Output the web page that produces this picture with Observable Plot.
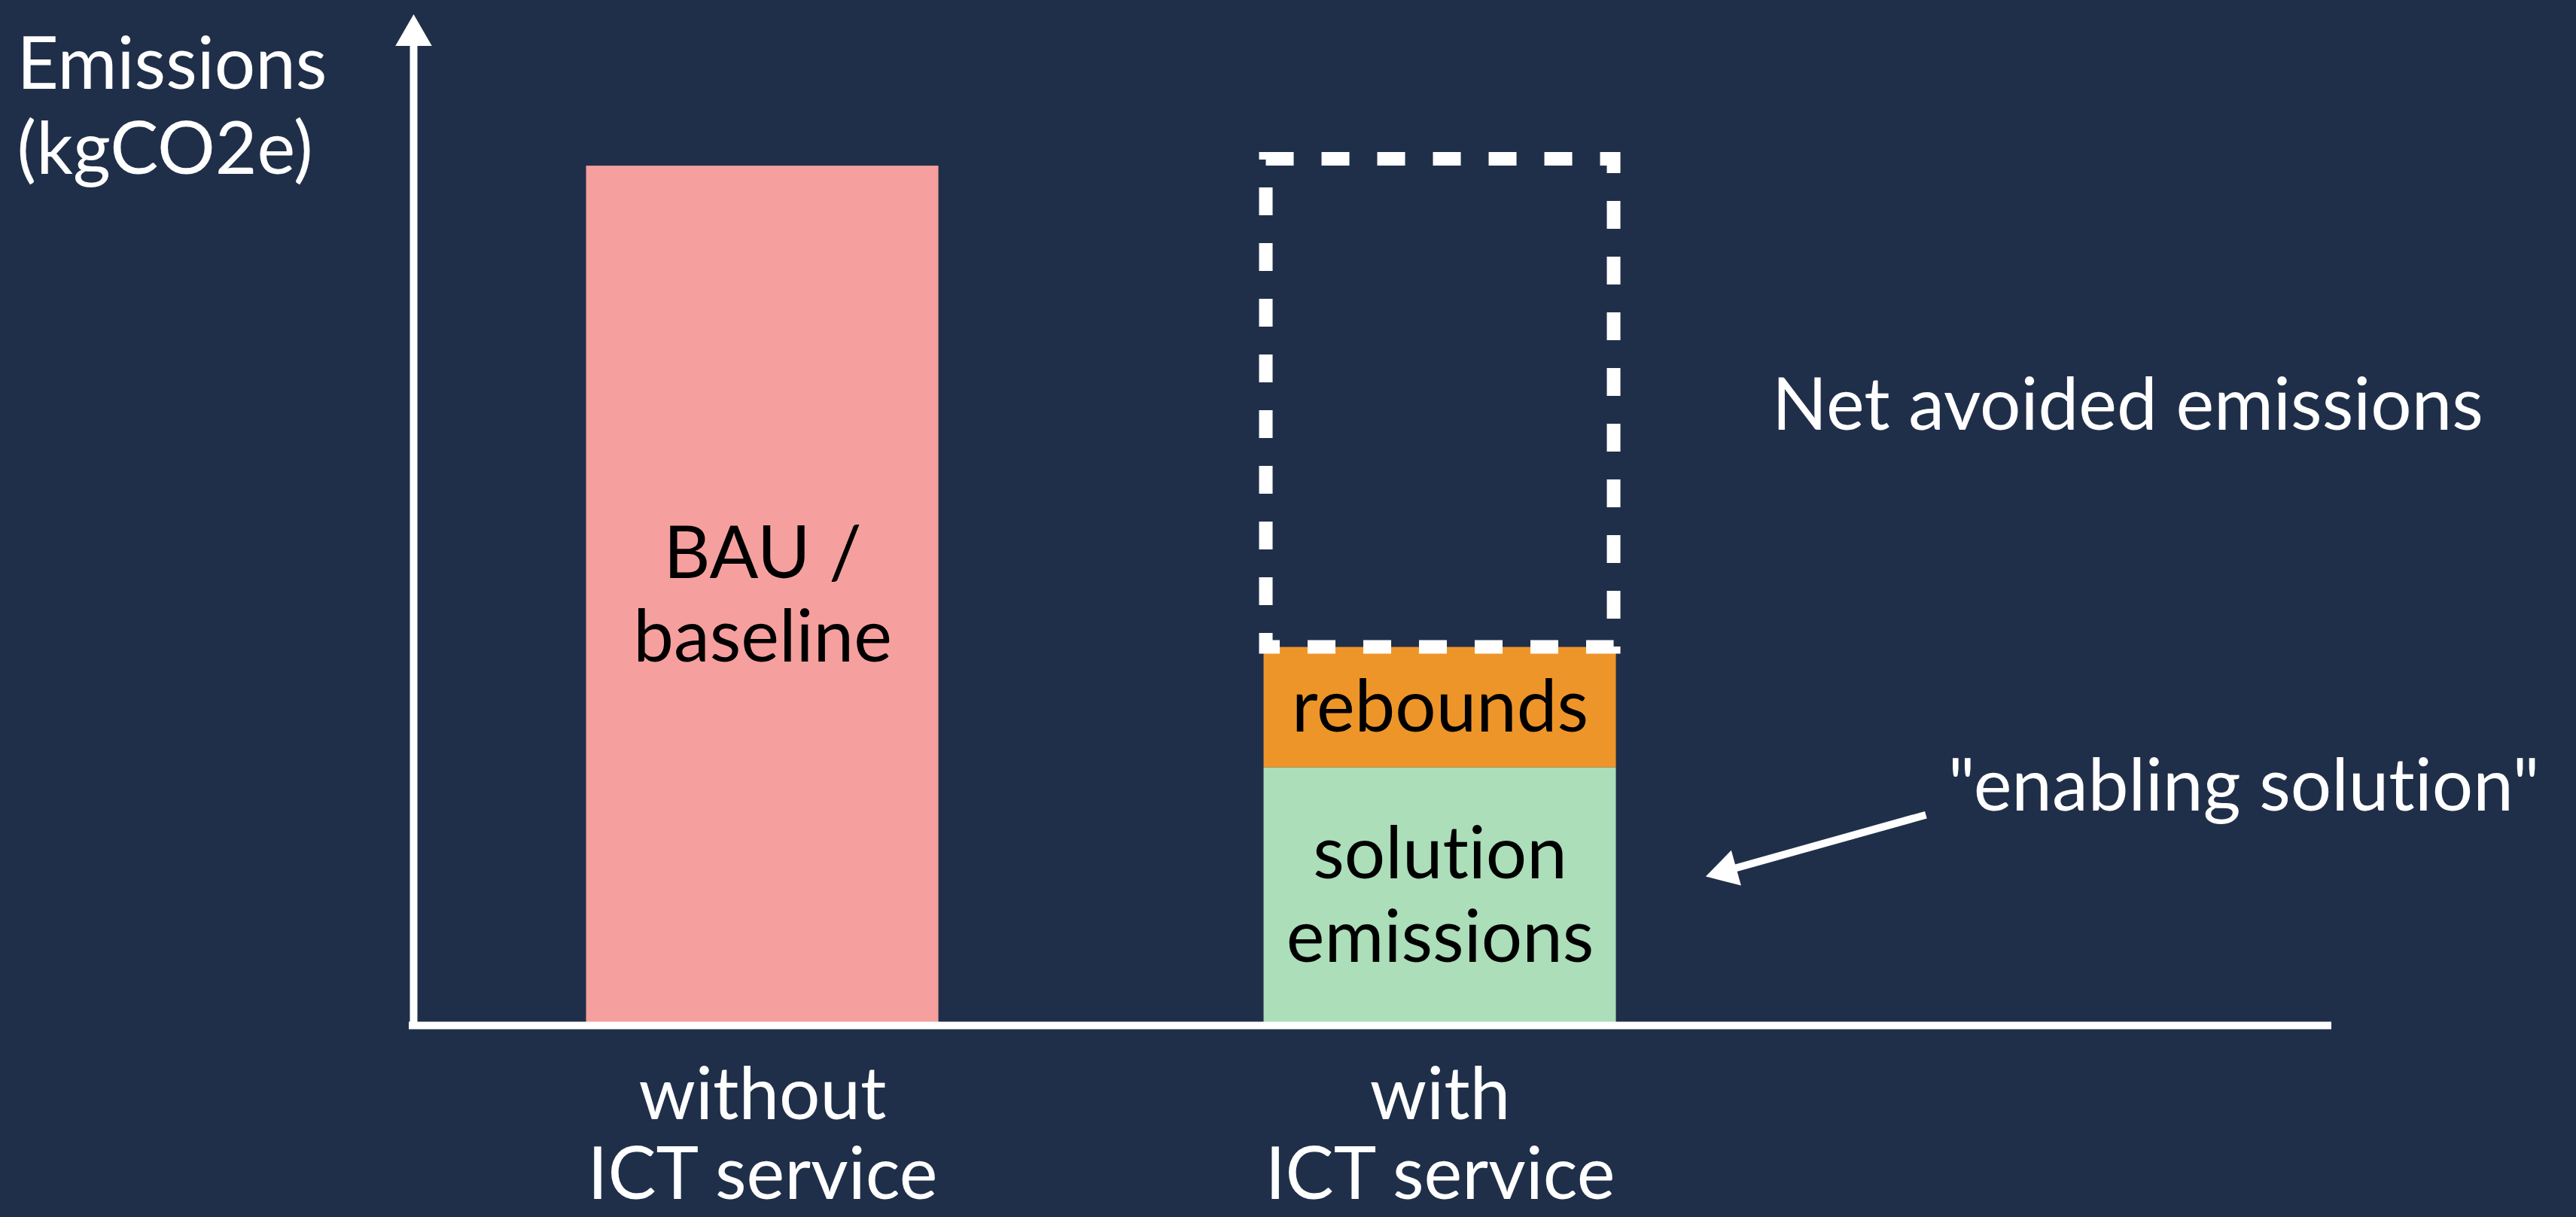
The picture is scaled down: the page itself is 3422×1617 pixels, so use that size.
<!DOCTYPE html>
<html>
<head>
<meta charset="utf-8">
<script src="https://cdn.jsdelivr.net/npm/d3@7"></script>
<script src="https://cdn.jsdelivr.net/npm/@observablehq/plot@0.6"></script>
<style>
  html, body { margin: 0; padding: 0; background: #202f49; }
  #chart { width: 3422px; height: 1617px; }
  #chart svg text { font-variant-ligatures: none; font-feature-settings: "liga" 0, "clig" 0; }
</style>
</head>
<body>
<div id="chart"></div>
<script>
// Scenarios along the x axis and where each one sits
const categories = ["without\nICT service", "with\nICT service"];
const slots = [1, 2];

// Stacked emission segments (kgCO2e, baseline = 100)
const segmentLabels = ["BAU /\nbaseline", "solution\nemissions", "rebounds"];
const segmentScenario = [0, 1, 1];
const segmentValues = [100, 30, 14];
const segmentColors = ["#f5a09e", "#abdeb9", "#ee9529"];

// Annotations
const netLabel = "Net avoided emissions";
const calloutLabel = "\"enabling solution\"";
const yLabel = "Emissions\n(kgCO2e)";

const bg = "#202f49";
const halfWidth = 0.26;

// Build stacked rectangles per scenario
const totals = slots.map(() => 0);
const rows = segmentLabels.map((label, i) => {
  const s = segmentScenario[i];
  const y1 = totals[s];
  const y2 = y1 + segmentValues[i];
  totals[s] = y2;
  return {label, x: slots[s], y1, y2, mid: (y1 + y2) / 2, fill: segmentColors[i]};
});

// Dashed outline: what the ICT scenario avoids relative to the baseline
const baseline = totals[0];
const withTotal = totals[1];
const avoided = [{x: slots[1], y1: withTotal, y2: baseline}];

const xMin = 0.485, xMax = 3.316;
const yTop = 117.7;
const axisArrowY = 115.2;

const arrow = {x1: 2.717, y1: 24.5, x2: 2.422, y2: 18.0, rotate: -105.6};

const chart = Plot.plot({
  width: 3422,
  height: 1617,
  marginLeft: 549,
  marginRight: 325,
  marginTop: 18,
  marginBottom: 255,
  style: {background: bg, color: "white", fontFamily: "Lato, 'Open Sans', sans-serif", fontSize: "96px", overflow: "visible"},
  x: {domain: [xMin, xMax], axis: null},
  y: {domain: [0, yTop], axis: null},
  marks: [
    Plot.rect(rows, {x1: d => d.x - halfWidth, x2: d => d.x + halfWidth, y1: "y1", y2: "y2", fill: "fill"}),
    Plot.rect(avoided, {
      x1: d => d.x - halfWidth, x2: d => d.x + halfWidth, y1: "y1", y2: "y2",
      fill: "none", stroke: "white", strokeWidth: 18, strokeDasharray: "37,37",
      insetTop: -9, insetLeft: 3, insetRight: 3
    }),
    Plot.text(rows, {x: "x", y: "mid", text: "label", fill: "black", fontSize: 96, lineHeight: 1.156, dy: -4}),
    // axes
    Plot.ruleY([0], {stroke: "white", strokeWidth: 10, insetLeft: -6}),
    Plot.ruleX([xMin], {y1: 0, y2: axisArrowY, stroke: "white", strokeWidth: 10}),
    Plot.dot([{x: xMin, y: axisArrowY}], {x: "x", y: "y", symbol: "triangle", r: 18, fill: "white", stroke: null}),
    Plot.axisX(slots, {
      tickFormat: d => categories[slots.indexOf(d)],
      tickSize: 0, tickPadding: 50, fontSize: 96, lineHeight: 1.1, fill: "white"
    }),
    Plot.text([yLabel], {
      frameAnchor: "top-left", textAnchor: "start", lineAnchor: "top",
      dx: -527, dy: 19, fill: "white", fontSize: 96, lineHeight: 1.177
    }),
    // annotations
    Plot.text([netLabel], {x: 2.49, y: (withTotal + baseline) / 2, text: d => d, textAnchor: "start", fill: "white", fontSize: 96}),
    Plot.text([calloutLabel], {x: 2.75, y: 27.7, text: d => d, textAnchor: "start", fill: "white", fontSize: 96}),
    Plot.link([arrow], {x1: "x1", y1: "y1", x2: "x2", y2: "y2", stroke: "white", strokeWidth: 10}),
    Plot.dot([arrow], {x: "x2", y: "y2", rotate: "rotate", symbol: "triangle", r: 18, fill: "white", stroke: null})
  ]
});

document.getElementById("chart").append(chart);
</script>
</body>
</html>
